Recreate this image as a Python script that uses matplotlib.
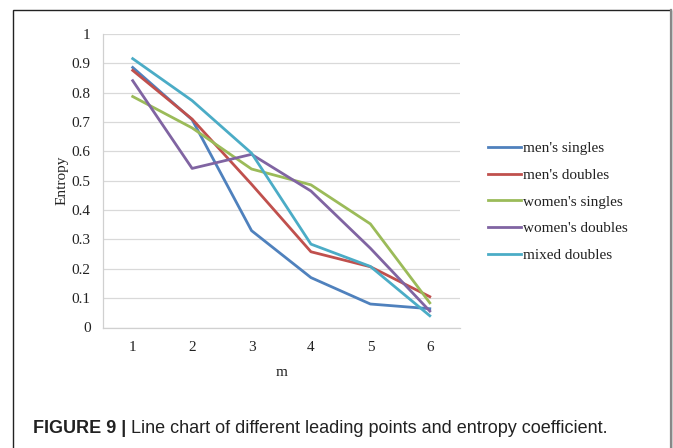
import matplotlib.pyplot as plt
from matplotlib.patches import Rectangle
from matplotlib.lines import Line2D

# --- data ---
m_vals = [1, 2, 3, 4, 5, 6]
mens_singles = [0.886, 0.708, 0.330, 0.170, 0.080, 0.064]
mens_doubles = [0.876, 0.710, 0.488, 0.258, 0.207, 0.105]
womens_singles = [0.787, 0.680, 0.540, 0.486, 0.353, 0.084]
womens_doubles = [0.841, 0.542, 0.590, 0.465, 0.270, 0.056]
mixed_doubles = [0.916, 0.773, 0.594, 0.284, 0.208, 0.040]

series = [
    ("men's singles", mens_singles, '#4F81BD'),
    ("men's doubles", mens_doubles, '#C0504D'),
    ("women's singles", womens_singles, '#9BBB59'),
    ("women's doubles", womens_doubles, '#8064A2'),
    ("mixed doubles", mixed_doubles, '#4BACC6'),
]

W, H = 673, 448
fig = plt.figure(figsize=(W / 100, H / 100), dpi=100)
serif = ['Liberation Serif', 'DejaVu Serif']
sans = ['Liberation Sans', 'DejaVu Sans']

# outer frame of the figure panel
fig.patches.append(Rectangle((13 / W, -0.05), (670.5 - 13) / W, 1.05 - 10 / H,
                             transform=fig.transFigure, fill=False,
                             edgecolor='#222222', lw=1.0))
fig.add_artist(Line2D([670.5 / W, 670.5 / W], [0, 1 - 10 / H],
                      transform=fig.transFigure, color='#888888', lw=1.6))

# plot area in pixels
left, right, top, bottom = 103, 459.5, 34, 327.5
ax = fig.add_axes([left / W, 1 - bottom / H, (right - left) / W, (bottom - top) / H])

for name, vals, col in series:
    ax.plot(m_vals, vals, color=col, lw=2.0, label=name)

ax.set_xlim(0.5, 6.5)
ax.set_ylim(0, 1)
ax.set_yticks([i / 10 for i in range(11)])
ax.set_yticklabels(['0', '0.1', '0.2', '0.3', '0.4', '0.5', '0.6', '0.7', '0.8', '0.9', '1'])
ax.set_xticks(m_vals)
ax.grid(axis='y', color='#D9D9D9', lw=0.9)
ax.set_axisbelow(True)
for s in ['top', 'right']:
    ax.spines[s].set_visible(False)
for s in ['left', 'bottom']:
    ax.spines[s].set_color('#D0D0D0')
    ax.spines[s].set_linewidth(0.9)
ax.tick_params(length=0, labelsize=11, colors='#222222')
ax.tick_params(axis='y', pad=9)
ax.tick_params(axis='x', pad=10)
for lab in ax.get_xticklabels() + ax.get_yticklabels():
    lab.set_family(serif)

ax.set_xlabel('m', family=serif, fontsize=11, color='#222222', labelpad=8)
ax.set_ylabel('Entropy', family=serif, fontsize=11, color='#222222', labelpad=2)

leg = fig.legend(loc='upper left', bbox_to_anchor=(474 / W, 1 - 128 / H),
                 frameon=False, prop={'family': serif, 'size': 11},
                 handlelength=2.2, handletextpad=0.1, labelspacing=0.85,
                 labelcolor='#222222')

# caption: bold label, then the plain text right after it
cap_y = 1 - 428 / H
t1 = fig.text(33 / W, cap_y, 'FIGURE 9 |', family=sans, fontsize=13,
              fontweight='bold', color='#222222', va='center', ha='left')
fig.canvas.draw()
bb = t1.get_window_extent()
fig.text((bb.x1 + 5) / W, cap_y, 'Line chart of different leading points and entropy coefficient.',
         family=sans, fontsize=13, color='#222222', va='center', ha='left')

fig.savefig('out.png', dpi=100)
